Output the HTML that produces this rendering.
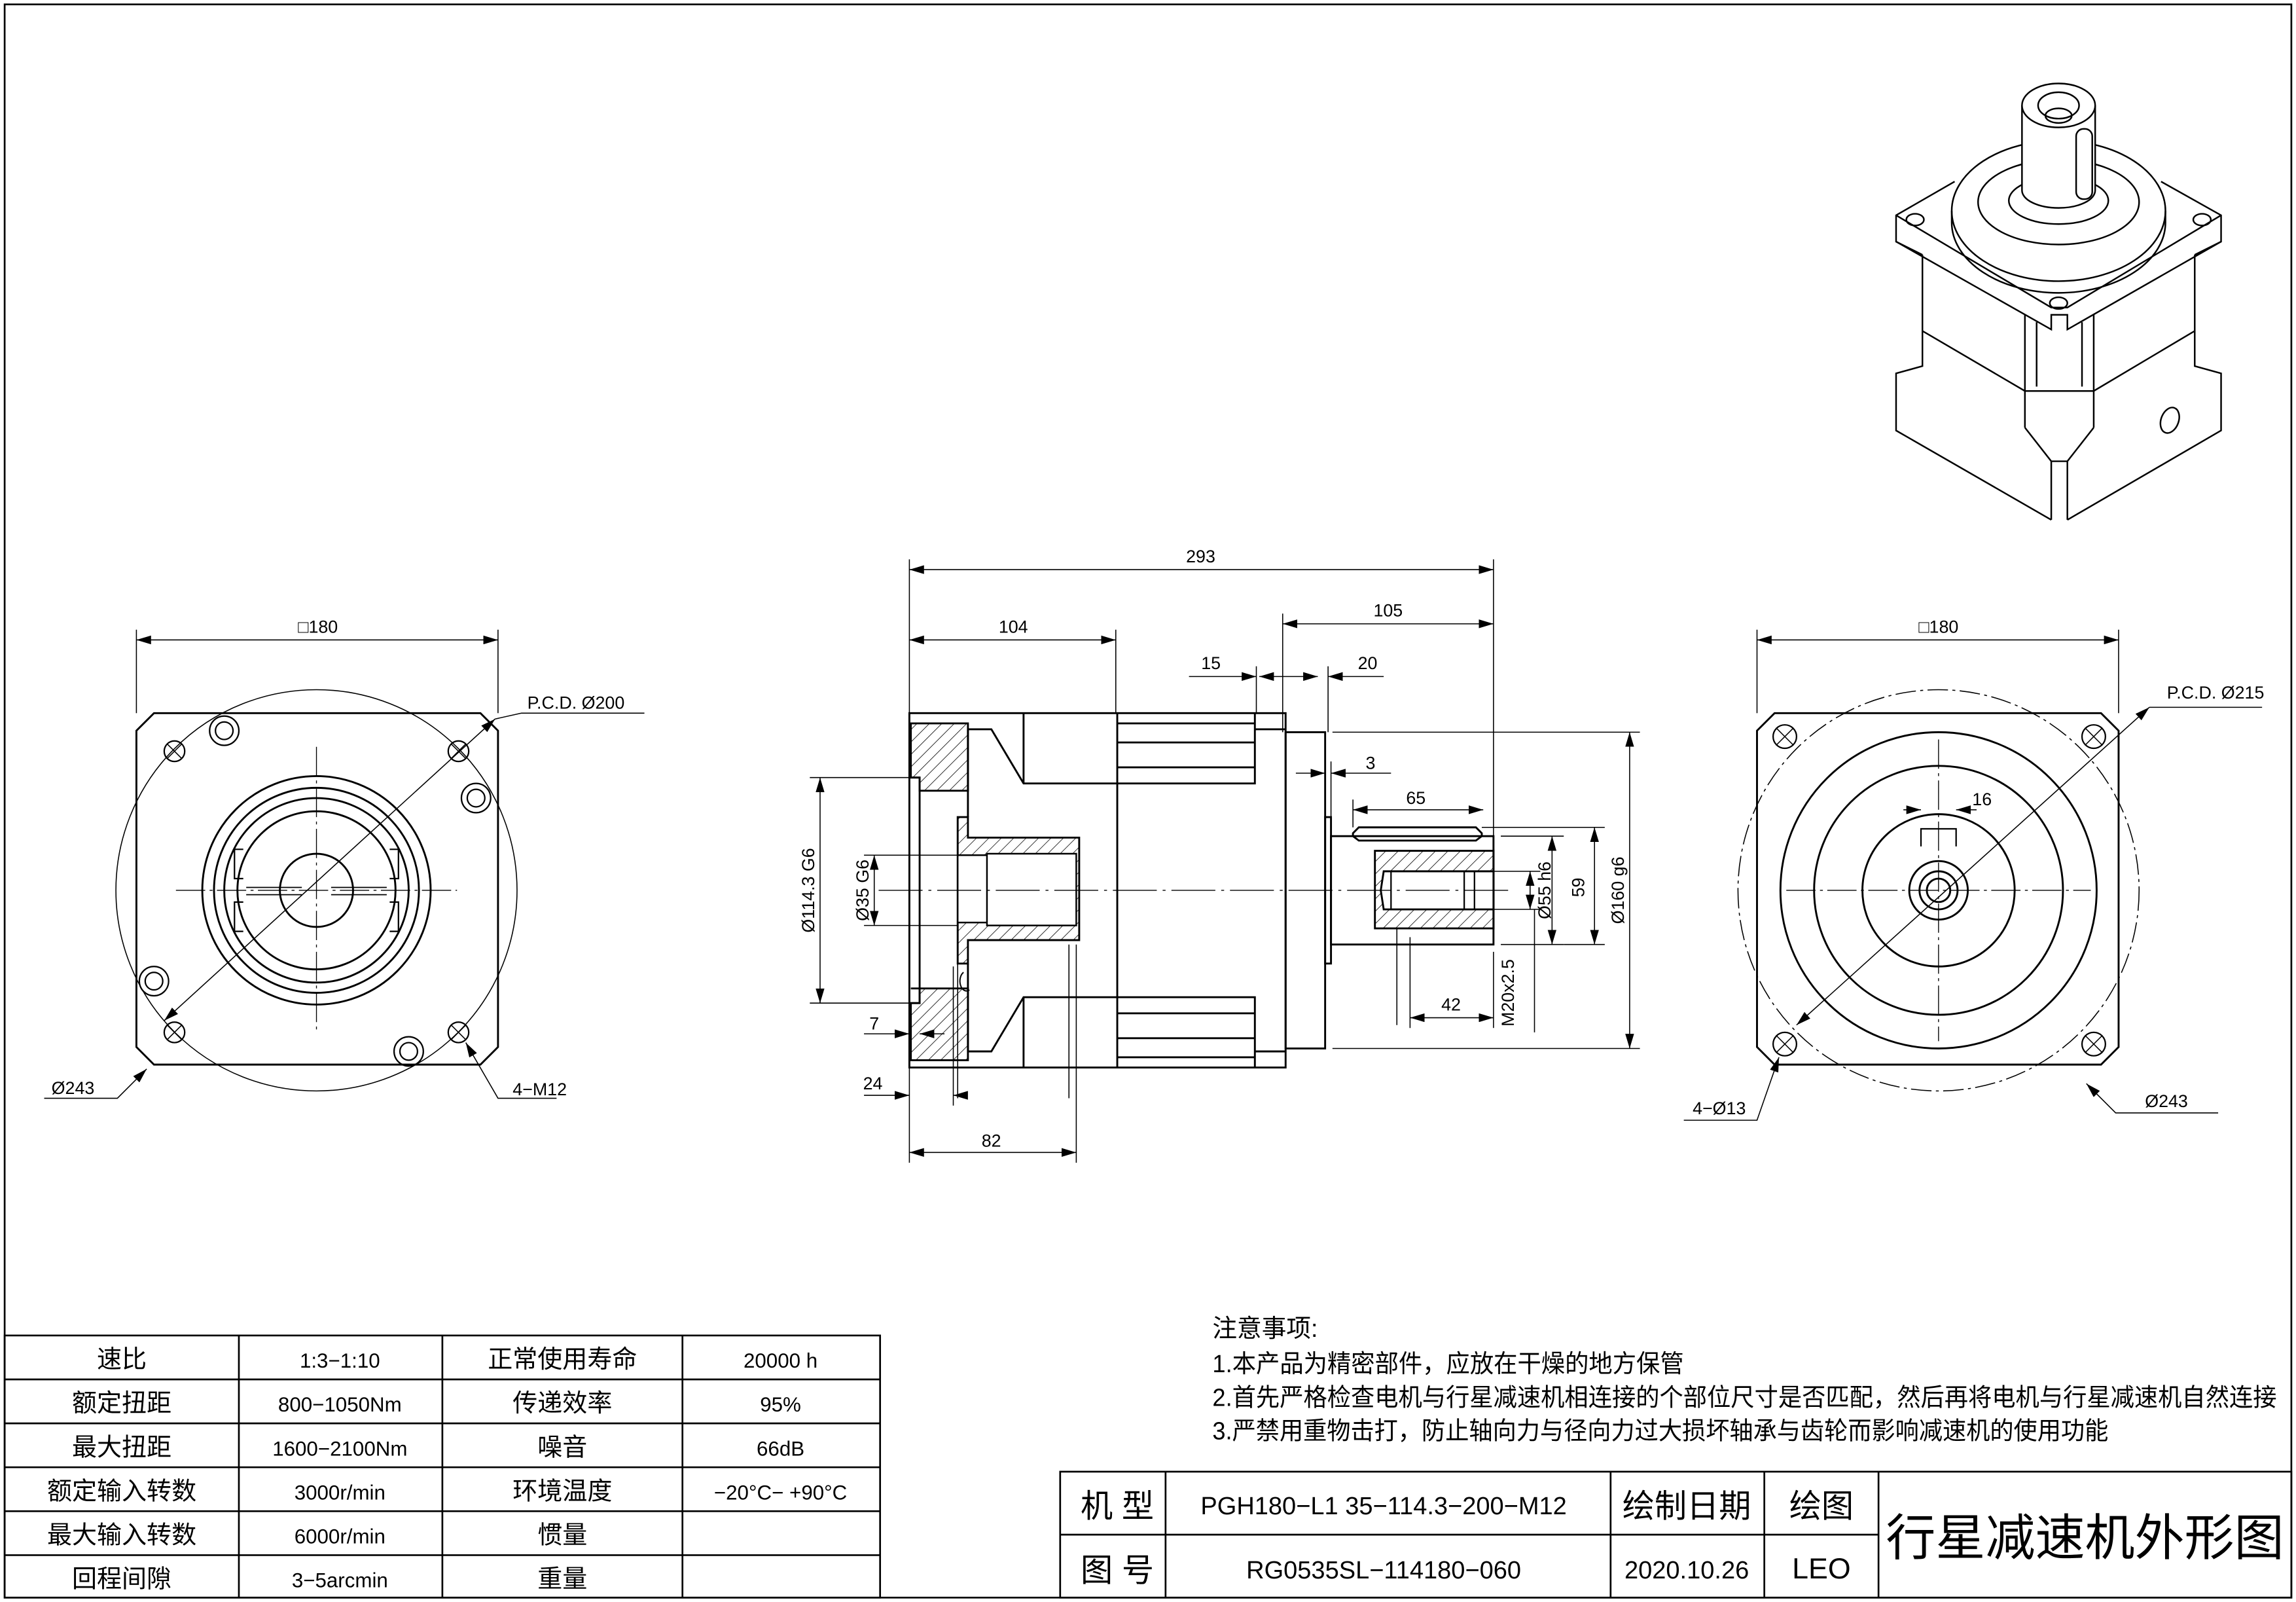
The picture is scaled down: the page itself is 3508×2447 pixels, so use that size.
<!DOCTYPE html>
<html><head><meta charset="utf-8"><style>
html,body{margin:0;padding:0;background:#fff}
svg{display:block}
text{font-family:"Liberation Sans","Noto Sans CJK SC",sans-serif;fill:#000}
</style></head><body>
<svg width="3508" height="2447" viewBox="0 0 1568 1094" xmlns="http://www.w3.org/2000/svg">
<defs>
<pattern id="h" width="6" height="6" patternUnits="userSpaceOnUse" patternTransform="rotate(45)">
<line x1="0" y1="0" x2="0" y2="6" stroke="#000" stroke-width="0.7"/></pattern>
<marker id="a" viewBox="0 0 10 6" refX="10" refY="3" markerWidth="10" markerHeight="6" orient="auto-start-reverse" markerUnits="userSpaceOnUse"><path d="M0,0L10,3L0,6z" fill="#000"/></marker>
</defs>
<rect x="3" y="3" width="1562" height="1088" fill="none" stroke="#000" stroke-width="1.2"/>

<g fill="none" stroke="#000" stroke-width="1.3">
<!-- LEFT VIEW -->
<path d="M105,487H328L340,499V715L328,727H105L93,715V499Z"/>
<circle cx="216" cy="608" r="137" stroke-width="0.7"/>
<circle cx="216" cy="608" r="78"/><circle cx="216" cy="608" r="70"/><circle cx="216" cy="608" r="63"/>
<circle cx="216" cy="608" r="54"/><circle cx="216" cy="608" r="25"/>
<path d="M166,580h-6v20h6M166,616h-6v20h6M266,580h6v20h-6M266,616h6v20h-6" stroke-width="1"/>
<path d="M168,606h38M168,611h38M226,606h38M226,611h38" stroke-width="0.8"/>
<g stroke-width="1"><circle cx="119" cy="513" r="7"/><circle cx="313" cy="513" r="7"/><circle cx="119" cy="705" r="7"/><circle cx="313" cy="705" r="7"/>
<circle cx="153" cy="499" r="10"/><circle cx="153" cy="499" r="6"/><circle cx="325" cy="545" r="10"/><circle cx="325" cy="545" r="6"/>
<circle cx="105" cy="670" r="10"/><circle cx="105" cy="670" r="6"/><circle cx="279" cy="718" r="10"/><circle cx="279" cy="718" r="6"/></g>
<path d="M114,508l10,10M124,508l-10,10M308,508l10,10M318,508l-10,10M114,700l10,10M124,700l-10,10M308,700l10,10M318,700l-10,10" stroke-width="0.7"/>
<path d="M120,608H312M216,510V706" stroke-width="0.6" stroke-dasharray="20,3,2,3"/>
</g>
<g stroke="#000" stroke-width="0.7" fill="none">
<line x1="93" y1="437" x2="340" y2="437" marker-start="url(#a)" marker-end="url(#a)"/>
<line x1="93" y1="430" x2="93" y2="487"/><line x1="340" y1="430" x2="340" y2="487"/>
<line x1="112" y1="697" x2="338" y2="491" marker-start="url(#a)" marker-end="url(#a)"/><polyline points="338,491 356,487 440,487"/>
<polyline points="30,750 80,750 100,730" marker-end="url(#a)"/>
<polyline points="380,750 340,750 318,712" marker-end="url(#a)"/>
</g>
<text x="217" y="432" font-size="12" text-anchor="middle">□180</text>
<text x="360" y="484" font-size="12">P.C.D. Ø200</text>
<text x="35" y="747" font-size="12">Ø243</text>
<text x="350" y="748" font-size="12">4−M12</text>

<!-- CENTER VIEW -->
<g fill="none" stroke="#000" stroke-width="1.3">
<rect x="621" y="487" width="257" height="242"/>
<path d="M621,531h7v154h-7" />
<path d="M622,494H661V540H628V531H622Z" fill="url(#h)"/>
<path d="M622,675H661V724H622V685H628V675Z" fill="url(#h)"/>
<path d="M661,498H677L699,535H857V487M661,498V558M661,658V718H677L699,681H857V729"/>
<path d="M699,487V535M699,681V729M763,487V729M857,498H878M857,718H878"/>
<path d="M763,494H857M763,507H857M763,524H857M763,692H857M763,709H857M763,722H857"/>
<path d="M654,558H661V572H737V642H661V658H654Z" fill="url(#h)"/>
<path d="M654,584H674V630H654ZM674,583H735V632H674Z" fill="#fff" stroke-width="1.1"/>
<path d="M730,645V750M654,640V750" stroke-width="0.7"/>
<path d="M658,664a4,6 0 0,0 4,12" stroke-width="0.9"/>
<rect x="878" y="500" width="27" height="216"/>
<rect x="905" y="558" width="4" height="100"/>
<rect x="909" y="571" width="111" height="74"/>
<path d="M928,565H1008L1012,569V571L1008,574H928L924,571V569Z"/>
<path d="M939,581H1020V634H939Z" fill="url(#h)"/>
<path d="M945,595H1020V621H945L943,608Z" fill="#fff"/>
<path d="M950,595V621M1000,595V621M1007,595V621" stroke-width="1"/>
<path d="M954,634V700" stroke-width="0.7"/>
<path d="M600,608H1030" stroke-width="0.6" stroke-dasharray="30,4,2,4"/>
</g>
<g stroke="#000" stroke-width="0.7" fill="none">
<line x1="621" y1="389" x2="1020" y2="389" marker-start="url(#a)" marker-end="url(#a)"/>
<line x1="621" y1="382" x2="621" y2="487"/><line x1="1020" y1="382" x2="1020" y2="571"/>
<line x1="621" y1="437" x2="762" y2="437" marker-start="url(#a)" marker-end="url(#a)"/><line x1="762" y1="430" x2="762" y2="487"/>
<line x1="876" y1="426" x2="1020" y2="426" marker-start="url(#a)" marker-end="url(#a)"/><line x1="876" y1="419" x2="876" y2="500"/>
<line x1="858" y1="455" x2="858" y2="487"/><line x1="907" y1="455" x2="907" y2="500"/>
<line x1="812" y1="462" x2="858" y2="462" marker-end="url(#a)"/><line x1="876" y1="462" x2="860" y2="462" marker-end="url(#a)"/>
<line x1="876" y1="462" x2="900" y2="462" marker-end="url(#a)"/><line x1="945" y1="462" x2="907" y2="462" marker-end="url(#a)"/>
<line x1="885" y1="528" x2="905" y2="528" marker-end="url(#a)"/><line x1="950" y1="528" x2="909" y2="528" marker-end="url(#a)"/>
<line x1="909" y1="520" x2="909" y2="558"/>
<line x1="924" y1="553" x2="1013" y2="553" marker-start="url(#a)" marker-end="url(#a)"/><line x1="924" y1="546" x2="924" y2="565"/>
<line x1="963" y1="695" x2="1020" y2="695" marker-start="url(#a)" marker-end="url(#a)"/><line x1="963" y1="640" x2="963" y2="702"/><line x1="1020" y1="650" x2="1020" y2="702"/>
<line x1="621" y1="787" x2="735" y2="787" marker-start="url(#a)" marker-end="url(#a)"/><line x1="621" y1="729" x2="621" y2="794"/><line x1="735" y1="645" x2="735" y2="794"/>
<line x1="590" y1="748" x2="621" y2="748" marker-end="url(#a)"/><line x1="660" y1="748" x2="651" y2="748" marker-end="url(#a)"/><line x1="651" y1="660" x2="651" y2="755"/>
<line x1="590" y1="706" x2="621" y2="706" marker-end="url(#a)"/><line x1="645" y1="706" x2="628" y2="706" marker-end="url(#a)"/>
<line x1="560" y1="531" x2="560" y2="685" marker-start="url(#a)" marker-end="url(#a)"/><line x1="553" y1="531" x2="621" y2="531"/><line x1="553" y1="685" x2="621" y2="685"/>
<line x1="597" y1="584" x2="597" y2="632" marker-start="url(#a)" marker-end="url(#a)"/><line x1="590" y1="584" x2="654" y2="584"/><line x1="590" y1="632" x2="654" y2="632"/>
<line x1="1045" y1="595" x2="1045" y2="621" marker-start="url(#a)" marker-end="url(#a)"/><line x1="1020" y1="595" x2="1052" y2="595"/><line x1="1020" y1="621" x2="1052" y2="621"/>
<line x1="1048" y1="621" x2="1048" y2="705"/>
<line x1="1060" y1="571" x2="1060" y2="645" marker-start="url(#a)" marker-end="url(#a)"/><line x1="1025" y1="571" x2="1068" y2="571"/><line x1="1025" y1="645" x2="1068" y2="645"/>
<line x1="1089" y1="565" x2="1089" y2="645" marker-start="url(#a)" marker-end="url(#a)"/><line x1="1012" y1="565" x2="1096" y2="565"/><line x1="1068" y1="645" x2="1096" y2="645"/>
<line x1="1113" y1="500" x2="1113" y2="716" marker-start="url(#a)" marker-end="url(#a)"/><line x1="910" y1="500" x2="1120" y2="500"/><line x1="910" y1="716" x2="1120" y2="716"/>
</g>
<g font-size="12">
<text x="820" y="384" text-anchor="middle">293</text>
<text x="692" y="432" text-anchor="middle">104</text>
<text x="948" y="421" text-anchor="middle">105</text>
<text x="827" y="457" text-anchor="middle">15</text>
<text x="934" y="457" text-anchor="middle">20</text>
<text x="936" y="525" text-anchor="middle">3</text>
<text x="967" y="549" text-anchor="middle">65</text>
<text x="991" y="690" text-anchor="middle">42</text>
<text x="677" y="783" text-anchor="middle">82</text>
<text x="596" y="744" text-anchor="middle">24</text>
<text x="597" y="703" text-anchor="middle">7</text>
<text transform="translate(556,608) rotate(-90)" text-anchor="middle">Ø114.3 G6</text>
<text transform="translate(593,608) rotate(-90)" text-anchor="middle">Ø35 G6</text>
<text transform="translate(1059,608) rotate(-90)" text-anchor="middle">Ø55 h6</text>
<text transform="translate(1082,606) rotate(-90)" text-anchor="middle">59</text>
<text transform="translate(1109,608) rotate(-90)" text-anchor="middle">Ø160 g6</text>
<text transform="translate(1034,678) rotate(-90)" text-anchor="middle">M20x2.5</text>
</g>

<!-- RIGHT VIEW -->
<g fill="none" stroke="#000" stroke-width="1.3">
<path d="M1212,487H1435L1447,499V715L1435,727H1212L1200,715V499Z"/>
<circle cx="1324" cy="608" r="137" stroke-width="0.7" stroke-dasharray="14,3,2,3"/>
<circle cx="1324" cy="608" r="108"/><circle cx="1324" cy="608" r="85"/><circle cx="1324" cy="608" r="52"/>
<circle cx="1324" cy="608" r="20"/><circle cx="1324" cy="608" r="13"/><circle cx="1324" cy="608" r="8"/>
<path d="M1312,578V566H1336V578" stroke-width="1"/>
<g stroke-width="1"><circle cx="1219" cy="503" r="8"/><circle cx="1430" cy="503" r="8"/><circle cx="1219" cy="713" r="8"/><circle cx="1430" cy="713" r="8"/></g>
<path d="M1213,497l12,12M1225,497l-12,12M1424,497l12,12M1436,497l-12,12M1213,707l12,12M1225,707l-12,12M1424,707l12,12M1436,707l-12,12" stroke-width="0.7"/>
<path d="M1220,608H1428M1324,505V711" stroke-width="0.6" stroke-dasharray="20,3,2,3"/>
</g>
<g stroke="#000" stroke-width="0.7" fill="none">
<line x1="1200" y1="437" x2="1447" y2="437" marker-start="url(#a)" marker-end="url(#a)"/>
<line x1="1200" y1="430" x2="1200" y2="487"/><line x1="1447" y1="430" x2="1447" y2="487"/>
<line x1="1227" y1="700" x2="1468" y2="483" marker-start="url(#a)" marker-end="url(#a)"/><line x1="1468" y1="483" x2="1545" y2="483"/>
<line x1="1300" y1="553" x2="1312" y2="553" marker-end="url(#a)"/><line x1="1350" y1="553" x2="1336" y2="553" marker-end="url(#a)"/>
<polyline points="1150,765 1200,765 1215,722" marker-end="url(#a)"/>
<polyline points="1515,760 1445,760 1425,740" marker-end="url(#a)"/>
</g>
<text x="1324" y="432" font-size="12" text-anchor="middle">□180</text>
<text x="1480" y="477" font-size="12">P.C.D. Ø215</text>
<text x="1347" y="550" font-size="12">16</text>
<text x="1156" y="761" font-size="12">4−Ø13</text>
<text x="1465" y="756" font-size="12">Ø243</text>

<!-- ISO VIEW -->
<g fill="none" stroke="#000" stroke-width="1.1">
<path d="M1335,124L1295,147V165L1313,174M1476,124L1517,147V165L1499,174"/>
<path d="M1295,147L1401,210H1412L1517,147"/>
<path d="M1295,165L1401,225V215H1412V225L1517,165"/>
<path d="M1313,174V250L1295,255V294L1401,355M1499,174V250L1517,255V294L1412,355"/>
<path d="M1313,226L1383,267H1430L1499,226"/>
<path d="M1383,215V292M1430,215V292M1391,220V264M1422,220V264M1383,292L1401,315V355M1430,292L1412,315V355M1401,315H1412"/>
<ellipse cx="1406" cy="144" rx="73" ry="48" fill="#fff"/>
<path d="M1333,144V152A73,48 0 0,0 1479,152V144"/>
<ellipse cx="1406" cy="138" rx="55" ry="29"/>
<ellipse cx="1406" cy="137" rx="34" ry="16" fill="#fff"/>
<path d="M1381,72V130A25,12 0 0,0 1431,130V72" fill="#fff"/>
<ellipse cx="1406" cy="72" rx="25" ry="15" fill="#fff"/>
<ellipse cx="1406" cy="72" rx="14" ry="9"/><ellipse cx="1406" cy="79" rx="9" ry="5"/>
<rect x="1418" y="88" width="11" height="48" rx="5"/>
<ellipse cx="1308" cy="150" rx="6" ry="4"/><ellipse cx="1504" cy="150" rx="6" ry="4"/><ellipse cx="1406" cy="207" rx="6" ry="4"/>
<ellipse cx="1482" cy="287" rx="6" ry="9" transform="rotate(20 1482 287)"/>
</g>

<!-- NOTES -->
<g font-size="17">
<text x="828" y="913" textLength="72" lengthAdjust="spacingAndGlyphs">注意事项:</text>
<text x="828" y="937" textLength="322" lengthAdjust="spacingAndGlyphs">1.本产品为精密部件，应放在干燥的地方保管</text>
<text x="828" y="960" textLength="727" lengthAdjust="spacingAndGlyphs">2.首先严格检查电机与行星减速机相连接的个部位尺寸是否匹配，然后再将电机与行星减速机自然连接</text>
<text x="828" y="983" textLength="612" lengthAdjust="spacingAndGlyphs">3.严禁用重物击打，防止轴向力与径向力过大损坏轴承与齿轮而影响减速机的使用功能</text>
</g>

<!-- TABLE -->
<g fill="none" stroke="#000" stroke-width="1.2">
<rect x="3" y="912" width="598" height="179"/>
<path d="M3,942H601M3,972H601M3,1002H601M3,1032H601M3,1062H601M163,912V1091M302,912V1091M466,912V1091"/>
<rect x="724" y="1005" width="841" height="86"/>
<path d="M724,1048H1283M796,1005V1091M1100,1005V1091M1205,1005V1091M1283,1005V1091"/>
</g>
<g font-size="17" text-anchor="middle">
<text x="83" y="934">速比</text><text x="232" y="934" font-size="14">1:3−1:10</text><text x="384" y="934">正常使用寿命</text><text x="533" y="934" font-size="14">20000 h</text>
<text x="83" y="964">额定扭距</text><text x="232" y="964" font-size="14">800−1050Nm</text><text x="384" y="964">传递效率</text><text x="533" y="964" font-size="14">95%</text>
<text x="83" y="994">最大扭距</text><text x="232" y="994" font-size="14">1600−2100Nm</text><text x="384" y="994">噪音</text><text x="533" y="994" font-size="14">66dB</text>
<text x="83" y="1024">额定输入转数</text><text x="232" y="1024" font-size="14">3000r/min</text><text x="384" y="1024">环境温度</text><text x="533" y="1024" font-size="14">−20°C− +90°C</text>
<text x="83" y="1054">最大输入转数</text><text x="232" y="1054" font-size="14">6000r/min</text><text x="384" y="1054">惯量</text>
<text x="83" y="1084">回程间隙</text><text x="232" y="1084" font-size="14">3−5arcmin</text><text x="384" y="1084">重量</text>
<text x="763" y="1036" font-size="22">机 型</text><text x="945" y="1034">PGH180−L1 35−114.3−200−M12</text>
<text x="1152" y="1036" font-size="22">绘制日期</text><text x="1244" y="1036" font-size="22">绘图</text>
<text x="763" y="1080" font-size="22">图 号</text><text x="945" y="1078">RG0535SL−114180−060</text>
<text x="1152" y="1078">2020.10.26</text><text x="1244" y="1078" font-size="20">LEO</text>
<text x="1424" y="1062" font-size="34">行星减速机外形图</text>
</g>
</svg>
</body></html>
